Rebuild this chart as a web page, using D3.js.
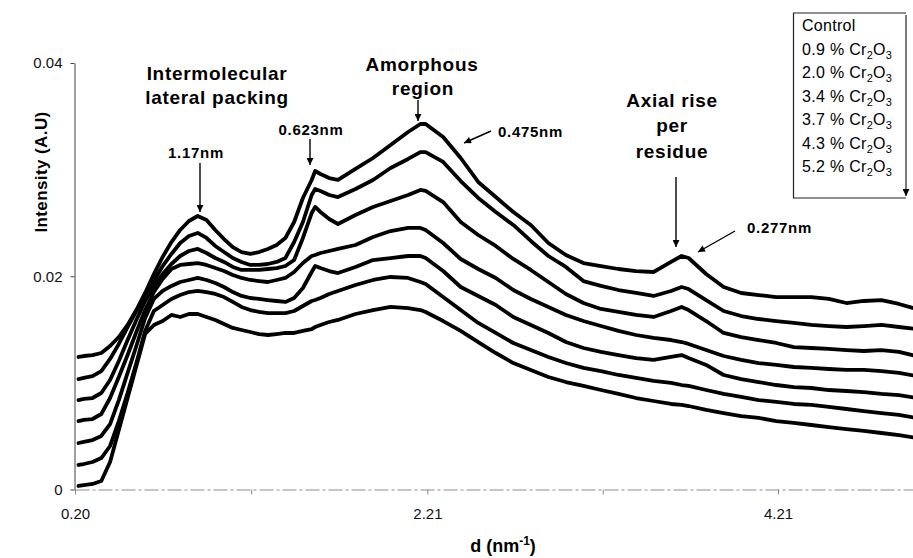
<!DOCTYPE html>
<html>
<head>
<meta charset="utf-8">
<script src="https://d3js.org/d3.v7.min.js"></script>
<style>
  body { margin: 0; background: #fff; }
  svg { display: block; }
  text { font-family: "Liberation Sans", Arial, sans-serif; }
</style>
</head>
<body>
<div id="chart"></div>
<script>
// d (nm-1) sample positions
var dValues = [0.22,0.25,0.30,0.35,0.40,0.45,0.50,0.55,0.60,0.65,0.70,0.75,0.80,0.85,0.90,0.95,1.00,1.05,1.10,1.15,
  1.20,1.25,1.30,1.35,1.40,1.45,1.50,1.55,1.57,1.60,1.65,1.70,1.80,1.90,2.00,2.10,2.17,2.20,2.30,2.40,
  2.50,2.60,2.70,2.80,2.90,3.00,3.10,3.20,3.30,3.40,3.50,3.60,3.66,3.70,3.80,3.90,4.00,4.10,4.20,4.30,
  4.40,4.50,4.60,4.70,4.80,4.90,5.00];

// intensity (A.U) per sample
var control = [0.01243,0.01252,0.01261,0.01280,0.01346,0.01430,0.01543,0.01683,0.01843,0.02021,
  0.02181,0.02321,0.02434,0.02518,0.02565,0.02528,0.02434,0.02349,0.02274,0.02227,
  0.02209,0.02227,0.02256,0.02293,0.02359,0.02509,0.02734,0.02903,0.02987,0.02959,
  0.02921,0.02903,0.03006,0.03109,0.03231,0.03353,0.03428,0.03428,0.03306,0.03109,
  0.02884,0.02743,0.02603,0.02481,0.02312,0.02199,0.02124,0.02096,0.02068,0.02049,
  0.02040,0.02134,0.02190,0.02171,0.02021,0.01899,0.01843,0.01824,0.01805,0.01805,
  0.01805,0.01787,0.01749,0.01768,0.01777,0.01740,0.01693];
var cr09 = [0.01036,0.01046,0.01064,0.01111,0.01224,0.01365,0.01524,0.01674,0.01824,0.01955,
  0.02096,0.02209,0.02312,0.02378,0.02406,0.02359,0.02284,0.02227,0.02171,0.02134,
  0.02106,0.02106,0.02115,0.02134,0.02171,0.02321,0.02509,0.02762,0.02818,0.02800,
  0.02762,0.02743,0.02818,0.02903,0.03015,0.03100,0.03165,0.03165,0.03072,0.02893,
  0.02734,0.02603,0.02481,0.02331,0.02190,0.02087,0.01955,0.01909,0.01871,0.01843,
  0.01815,0.01862,0.01899,0.01880,0.01777,0.01674,0.01627,0.01599,0.01580,0.01562,
  0.01543,0.01533,0.01524,0.01533,0.01543,0.01524,0.01505];
var cr20 = [0.00839,0.00849,0.00858,0.00905,0.01027,0.01205,0.01402,0.01590,0.01768,0.01909,
  0.02021,0.02115,0.02190,0.02237,0.02256,0.02218,0.02171,0.02134,0.02087,0.02059,
  0.02059,0.02059,0.02068,0.02077,0.02096,0.02152,0.02359,0.02593,0.02650,0.02603,
  0.02537,0.02490,0.02574,0.02650,0.02706,0.02762,0.02809,0.02800,0.02696,0.02509,
  0.02387,0.02284,0.02162,0.02059,0.01946,0.01834,0.01749,0.01693,0.01665,0.01637,
  0.01618,0.01674,0.01712,0.01683,0.01580,0.01468,0.01430,0.01402,0.01374,0.01336,
  0.01327,0.01318,0.01308,0.01299,0.01308,0.01290,0.01252];
var cr34 = [0.00642,0.00652,0.00661,0.00708,0.00858,0.01055,0.01261,0.01477,0.01683,0.01852,
  0.01974,0.02068,0.02106,0.02115,0.02124,0.02106,0.02077,0.02049,0.02012,0.01984,
  0.01965,0.01955,0.01946,0.01965,0.01984,0.02040,0.02124,0.02190,0.02199,0.02218,
  0.02237,0.02256,0.02293,0.02368,0.02424,0.02453,0.02453,0.02434,0.02312,0.02162,
  0.02068,0.01984,0.01871,0.01787,0.01712,0.01637,0.01580,0.01533,0.01487,0.01449,
  0.01421,0.01402,0.01383,0.01365,0.01308,0.01252,0.01215,0.01186,0.01168,0.01149,
  0.01140,0.01130,0.01121,0.01121,0.01111,0.01093,0.01064];
var cr37 = [0.00436,0.00446,0.00464,0.00502,0.00614,0.00839,0.01093,0.01346,0.01608,0.01787,
  0.01862,0.01909,0.01946,0.01965,0.01984,0.01965,0.01937,0.01899,0.01852,0.01815,
  0.01796,0.01787,0.01777,0.01768,0.01759,0.01796,0.01890,0.02040,0.02096,0.02077,
  0.02049,0.02030,0.02087,0.02152,0.02171,0.02190,0.02190,0.02171,0.02049,0.01899,
  0.01815,0.01730,0.01618,0.01543,0.01468,0.01383,0.01327,0.01290,0.01261,0.01233,
  0.01215,0.01243,0.01261,0.01233,0.01168,0.01074,0.01036,0.01008,0.00980,0.00961,
  0.00952,0.00933,0.00924,0.00914,0.00896,0.00886,0.00858];
var cr43 = [0.00230,0.00239,0.00258,0.00295,0.00408,0.00642,0.00905,0.01186,0.01487,0.01674,
  0.01730,0.01787,0.01824,0.01852,0.01862,0.01852,0.01834,0.01805,0.01759,0.01712,
  0.01683,0.01665,0.01655,0.01655,0.01655,0.01674,0.01721,0.01768,0.01777,0.01796,
  0.01834,0.01862,0.01918,0.01965,0.01993,0.01984,0.01946,0.01927,0.01805,0.01683,
  0.01562,0.01468,0.01374,0.01308,0.01243,0.01186,0.01140,0.01111,0.01074,0.01046,
  0.01018,0.00999,0.00980,0.00971,0.00933,0.00896,0.00868,0.00839,0.00821,0.00802,
  0.00793,0.00774,0.00755,0.00736,0.00717,0.00699,0.00671];
var cr52 = [0.00033,0.00042,0.00052,0.00080,0.00258,0.00558,0.00858,0.01158,0.01458,0.01543,
  0.01580,0.01637,0.01618,0.01646,0.01646,0.01618,0.01590,0.01552,0.01515,0.01496,
  0.01477,0.01458,0.01449,0.01458,0.01468,0.01468,0.01487,0.01505,0.01524,0.01543,
  0.01571,0.01590,0.01646,0.01683,0.01712,0.01702,0.01683,0.01665,0.01580,0.01487,
  0.01383,0.01280,0.01186,0.01121,0.01055,0.01008,0.00971,0.00933,0.00896,0.00858,
  0.00830,0.00802,0.00793,0.00783,0.00746,0.00717,0.00689,0.00671,0.00642,0.00624,
  0.00605,0.00586,0.00567,0.00549,0.00530,0.00511,0.00483];

var legendLabels = ["Control", "0.9", "2.0", "3.4", "3.7", "4.3", "5.2"];
var yTicks = [0, 0.02, 0.04];
var xTicks = [0.20, 1.205, 2.21, 3.21, 4.21];
var xTickLabels = ["0.20", "", "2.21", "", "4.21"];

var width = 913, height = 558;

var svg = d3.select("#chart").append("svg")
  .attr("width", width)
  .attr("height", height);

var x = d3.scaleLinear().domain([0.20, 4.98]).range([75, 913]);
var y = d3.scaleLinear().domain([0, 0.04]).range([489.5, 63]);

// arrow head for the annotations
svg.append("defs").append("marker")
  .attr("id", "arrow")
  .attr("viewBox", "0 0 10 10")
  .attr("refX", 10).attr("refY", 5)
  .attr("markerWidth", 9).attr("markerHeight", 7)
  .attr("markerUnits", "userSpaceOnUse")
  .attr("orient", "auto")
  .append("path").attr("d", "M0,0L10,5L0,10z").attr("fill", "#000");

// x axis (faint, like the scan)
var xAxis = svg.append("g")
  .attr("transform", "translate(0,489.5)")
  .call(d3.axisBottom(x).tickValues(xTicks).tickSize(5).tickSizeOuter(0).tickPadding(14)
    .tickFormat(function (d, i) { return xTickLabels[i]; }));
xAxis.attr("font-family", null).attr("font-size", null);
xAxis.select(".domain").attr("stroke", "#8c8c8c").attr("stroke-dasharray", "14,3,3,3");
xAxis.selectAll(".tick line").attr("stroke", "#888");
xAxis.selectAll(".tick text").attr("font-size", 15).attr("fill", "#111");

// y axis
var yAxis = svg.append("g")
  .attr("transform", "translate(74.5,0)")
  .call(d3.axisLeft(y).tickValues(yTicks).tickSize(4).tickSizeOuter(0).tickPadding(8)
    .tickFormat(function (d) { return d === 0 ? "0" : d3.format(".2f")(d); }));
yAxis.attr("font-family", null).attr("font-size", null);
yAxis.select(".domain").attr("stroke", "#444");
yAxis.selectAll(".tick line").attr("stroke", "#444");
yAxis.selectAll(".tick text").attr("font-size", 15).attr("fill", "#111");

// curves
var series = [control, cr09, cr20, cr34, cr37, cr43, cr52];
var line = d3.line()
  .x(function (d, i) { return x(dValues[i]); })
  .y(function (d) { return y(d); });

svg.append("g").selectAll("path")
  .data(series)
  .enter().append("path")
  .attr("d", line)
  .attr("fill", "none")
  .attr("stroke", "#000")
  .attr("stroke-width", 3.8)
  .attr("stroke-linejoin", "round")
  .attr("stroke-linecap", "round");

// axis titles
svg.append("text")
  .attr("transform", "translate(47,172) rotate(-90)")
  .attr("text-anchor", "middle")
  .attr("font-weight", "bold")
  .attr("font-size", 17)
  .attr("letter-spacing", 0.4)
  .text("Intensity (A.U)");

var xt = svg.append("text")
  .attr("x", 503).attr("y", 552)
  .attr("text-anchor", "middle")
  .attr("font-weight", "bold")
  .attr("font-size", 18);
xt.append("tspan").text("d (nm");
xt.append("tspan").attr("dy", -7).attr("font-size", 12).text("-1");
xt.append("tspan").attr("dy", 7).text(")");

// annotations
var ann = svg.append("g").attr("font-weight", "bold").attr("fill", "#000");

function label(txt, cx, by, size, anchor) {
  ann.append("text")
    .attr("x", cx).attr("y", by)
    .attr("text-anchor", anchor || "middle")
    .attr("font-size", size)
    .attr("letter-spacing", 0.7)
    .text(txt);
}
function arrow(x1, y1, x2, y2) {
  ann.append("line")
    .attr("x1", x1).attr("y1", y1).attr("x2", x2).attr("y2", y2)
    .attr("stroke", "#000").attr("stroke-width", 1.4)
    .attr("marker-end", "url(#arrow)");
}

label("Intermolecular", 217, 80, 19);
label("lateral packing", 217, 104, 19);
label("Amorphous", 422, 71, 19);
label("region", 423, 95, 19);
label("Axial rise", 672, 107, 19);
label("per", 672, 132, 19);
label("residue", 672, 158, 19);

label("1.17nm", 196, 158, 15);
label("0.623nm", 311, 135, 15);
label("0.475nm", 498, 137, 15, "start");
label("0.277nm", 747, 233, 15, "start");

arrow(200, 163, 200, 212);
arrow(310, 139, 310, 165);
arrow(418, 100, 418, 121);
arrow(491, 131, 464, 143);
arrow(676, 177, 676, 247);
arrow(735, 231, 698, 252);

// legend
var lg = svg.append("g");
lg.append("path")
  .attr("d", "M906,13H793.5V198H906")
  .attr("fill", "none").attr("stroke", "#222").attr("stroke-width", 1.2);
lg.append("line")
  .attr("x1", 906).attr("y1", 15).attr("x2", 906).attr("y2", 196)
  .attr("stroke", "#222").attr("stroke-width", 1.2)
  .attr("marker-end", "url(#arrow)");

lg.selectAll("text")
  .data(legendLabels)
  .enter().append("text")
  .attr("x", 802)
  .attr("y", function (d, i) { return 31 + i * 23.5; })
  .attr("font-size", 16)
  .attr("letter-spacing", 0.3)
  .each(function (d, i) {
    var t = d3.select(this);
    if (i === 0) { t.text(d); return; }
    t.append("tspan").text(d + " % Cr");
    t.append("tspan").attr("dy", 4).attr("font-size", 11).text("2");
    t.append("tspan").attr("dy", -4).text("O");
    t.append("tspan").attr("dy", 4).attr("font-size", 11).text("3");
  });
</script>
</body>
</html>
